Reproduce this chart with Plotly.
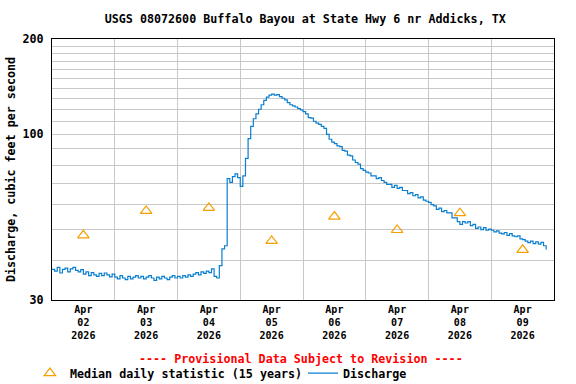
import pandas as pd
import plotly.graph_objects as go

TITLE = "USGS 08072600 Buffalo Bayou at State Hwy 6 nr Addicks, TX"
Y_TITLE = "Discharge, cubic feet per second"

# Hourly discharge readings (cfs) starting 2026-04-02 00:00
apr02 = [37.5, 37.0, 38.0, 36.5, 37.5, 37.8, 36.8, 37.6, 38.0, 37.2, 36.8, 37.4,
         36.2, 36.8, 35.8, 36.6, 36.0, 35.6, 36.4, 35.8, 36.5, 36.0, 35.5, 36.2]
apr03 = [35.4, 35.0, 35.8, 35.2, 34.8, 35.6, 35.0, 35.4, 35.8, 35.2, 35.6, 35.0,
         35.4, 35.8, 35.2, 34.6, 35.4, 35.0, 35.6, 35.2, 34.8, 35.4, 35.8, 35.2]
apr04 = [35.6, 35.2, 35.8, 35.4, 36.0, 35.6, 36.2, 36.6, 36.0, 36.8, 36.4, 37.0,
         36.6, 37.6, 35.6, 35.2, 38.5, 43.5, 44.5, 72.5, 70.5, 73.5, 75.0, 73.0]
apr05 = [68.5, 74.0, 84.0, 97.0, 106.0, 112.0, 116.0, 120.0, 124.0, 128.0, 131.0, 133.0,
         134.0, 133.0, 133.5, 131.5, 130.0, 128.5, 126.0, 124.0, 123.0, 122.0, 120.5, 119.5]
apr06 = [118.0, 116.0, 113.0, 112.5, 110.0, 108.5, 107.5, 106.0, 104.5, 100.0, 96.5, 94.5,
         93.5, 92.0, 91.5, 89.0, 88.5, 86.0, 85.5, 83.0, 81.5, 80.5, 78.0, 77.0]
apr07 = [76.0, 75.5, 74.0, 74.0, 72.5, 73.0, 71.5, 70.5, 69.5, 69.5, 68.0, 69.0,
         67.5, 68.0, 66.5, 66.5, 65.0, 65.5, 64.0, 64.5, 63.0, 63.5, 62.0, 61.5]
apr08 = [61.0, 60.0, 59.5, 58.0, 58.5, 57.0, 57.5, 56.5, 56.5, 54.5, 54.5, 53.0,
         52.0, 53.0, 52.5, 53.0, 51.5, 52.0, 50.5, 51.0, 50.0, 50.8, 49.8, 50.2]
apr09 = [49.8, 49.2, 49.6, 48.8, 48.5, 49.0, 48.0, 48.6, 47.8, 47.5, 47.8, 46.8,
         46.5, 46.0, 45.5, 46.0, 45.2, 45.8, 45.0, 45.6, 44.5, 43.3]
discharge = apr02 + apr03 + apr04 + apr05 + apr06 + apr07 + apr08 + apr09
times = pd.date_range("2026-04-02 00:00", periods=len(discharge), freq="h")

# Median daily statistic (15 years), plotted at noon each day
median_days = ["2026-04-02 12:00", "2026-04-03 12:00", "2026-04-04 12:00", "2026-04-05 12:00",
               "2026-04-06 12:00", "2026-04-07 12:00", "2026-04-08 12:00", "2026-04-09 12:00"]
median_vals = [48.0, 57.3, 58.6, 46.1, 55.0, 49.9, 56.4, 43.2]

y_tickvals = [30, 100, 200]
y_ticktext = ["30", "100", "200"]
y_minor_vals = [40, 50, 60, 70, 80, 90, 110, 120, 130, 140, 150, 160, 170, 180, 190]

FONT = "DejaVu Sans Mono"
LEG_FONT = dict(family=FONT, size=11.7, color="black", weight="bold")

fig = go.Figure()
fig.add_trace(go.Scatter(
    x=median_days, y=median_vals, mode="markers",
    name="Median daily statistic (15 years)", legend="legend",
    marker=dict(symbol="triangle-up-open", size=10, color="#f5a000",
                line=dict(width=1.2, color="#f5a000")),
))
fig.add_trace(go.Scatter(
    x=times, y=discharge, mode="lines", name="Discharge", legend="legend2",
    line=dict(color="#0a7fd0", width=1.2, shape="hv"),
))

fig.update_layout(
    width=576, height=384,
    margin=dict(l=52, r=22, t=39, b=84, autoexpand=False),
    paper_bgcolor="white", plot_bgcolor="white",
    font=dict(family=FONT, color="black", size=11.7, weight="bold"),
    title=dict(text=TITLE, x=0.53, xanchor="center", y=0.95, yanchor="middle",
               font=dict(family=FONT, size=11.7, color="black", weight="bold")),
    showlegend=True,
    legend=dict(orientation="h", x=-0.044, xanchor="left", y=-0.28, yanchor="middle",
                font=LEG_FONT, bgcolor="rgba(0,0,0,0)", itemwidth=30),
    legend2=dict(orientation="h", x=0.50, xanchor="left", y=-0.28, yanchor="middle",
                 font=LEG_FONT, bgcolor="rgba(0,0,0,0)", itemwidth=30),
    annotations=[dict(text="---- Provisional Data Subject to Revision ----",
                      xref="paper", yref="paper", x=0.497, y=-0.226,
                      xanchor="center", yanchor="middle", showarrow=False,
                      font=dict(family=FONT, size=11.7, color="#ff0000", weight="bold"))],
)

fig.update_xaxes(
    type="date", range=["2026-04-02", "2026-04-10"],
    tick0="2026-04-02", dtick=86400000, ticklabelmode="period",
    tickformat="%b<br>%d<br>%Y",
    tickfont=dict(family=FONT, size=10, color="black", weight="bold"),
    showgrid=True, gridcolor="#c8c8c8", gridwidth=1,
    showline=True, linecolor="black", linewidth=1, mirror=True,
    ticks="", zeroline=False,
)
fig.update_yaxes(
    type="log", range=[1.4771, 2.3010],
    tickmode="array", tickvals=y_tickvals, ticktext=y_ticktext,
    tickfont=dict(family=FONT, size=11.7, color="black", weight="bold"),
    ticklabelstandoff=5,
    showgrid=True, gridcolor="#c8c8c8", gridwidth=1,
    minor=dict(tickmode="array", tickvals=y_minor_vals, showgrid=True,
               gridcolor="#c8c8c8", gridwidth=1, ticks=""),
    showline=True, linecolor="black", linewidth=1, mirror=True,
    ticks="", zeroline=False,
    title=dict(text=Y_TITLE, standoff=4,
               font=dict(family=FONT, size=11.7, color="black", weight="bold")),
)

fig.write_html("out.html", config={"displayModeBar": False},
               post_script="document.body.style.margin='0';document.body.style.padding='0';")
